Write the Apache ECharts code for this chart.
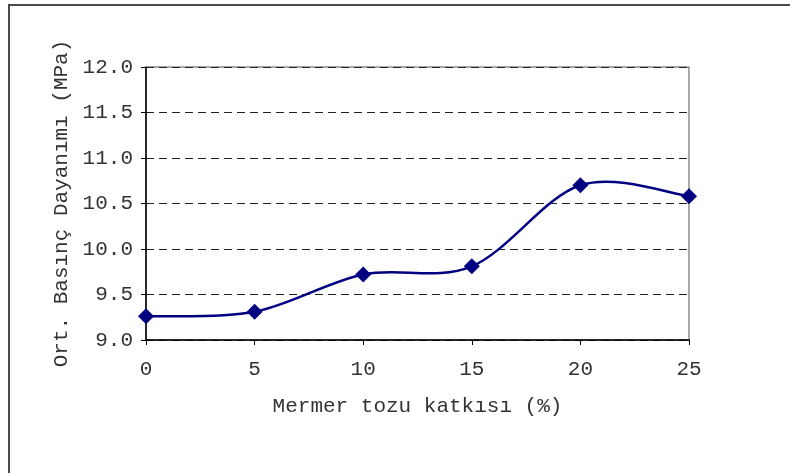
<!DOCTYPE html>
<html>
<head>
<meta charset="utf-8">
<script src="https://cdn.jsdelivr.net/npm/echarts@6/dist/echarts.min.js"></script>
<style>
  html, body { margin: 0; padding: 0; background: #fff; }
  #chart { width: 790px; height: 473px; }
</style>
</head>
<body>
<div id="chart"></div>
<script>
// Mermer tozu oranına göre ortalama basınç dayanımı
const katki = [0, 5, 10, 15, 20, 25];
const dayanim = [9.26, 9.31, 9.72, 9.81, 10.70, 10.58];
const xTitle = 'Mermer tozu katkısı (%)';
const yTitle = 'Ort. Basınç Dayanımı (MPa)';

const mono = '"Liberation Mono", "DejaVu Sans Mono", monospace';
const navy = '#000080';
const points = katki.map((k, i) => [k, dayanim[i]]);

// Smoothed segment i -> i+1 as a cubic Bezier (Catmull-Rom style tangents)
function renderSegment(params, api) {
  const i = params.dataIndex;
  const n = points.length;
  if (i >= n - 1) return null;
  const p0 = api.coord(points[Math.max(i - 1, 0)]);
  const p1 = api.coord(points[i]);
  const p2 = api.coord(points[i + 1]);
  const p3 = api.coord(points[Math.min(i + 2, n - 1)]);
  const c1 = [p1[0] + (p2[0] - p0[0]) / 6, p1[1] + (p2[1] - p0[1]) / 6];
  const c2 = [p2[0] - (p3[0] - p1[0]) / 6, p2[1] - (p3[1] - p1[1]) / 6];
  return {
    type: 'bezierCurve',
    shape: { x1: p1[0], y1: p1[1], x2: p2[0], y2: p2[1],
             cpx1: c1[0], cpy1: c1[1], cpx2: c2[0], cpy2: c2[1] },
    style: { stroke: navy, lineWidth: 2.5, fill: null },
    silent: true
  };
}

const chart = echarts.init(document.getElementById('chart'), null, { renderer: 'canvas' });
chart.setOption({
  animation: false,
  backgroundColor: '#fff',
  graphic: [{
    type: 'rect',
    shape: { x: 9, y: 5, width: 820, height: 520 },
    style: { fill: 'none', stroke: '#4a4a4a', lineWidth: 2 },
    silent: true
  }],
  grid: { left: 146, right: 101, top: 67, bottom: 133, show: true, borderColor: '#555', borderWidth: 1 },
  xAxis: {
    type: 'value', min: 0, max: 25, interval: 5,
    name: xTitle, nameLocation: 'middle', nameGap: 56,
    nameTextStyle: { fontFamily: mono, fontSize: 21, color: '#333' },
    axisLine: { lineStyle: { color: '#000', width: 1.5 } },
    axisTick: { show: true, length: 5, lineStyle: { color: '#000' } },
    axisLabel: { fontFamily: mono, fontSize: 21, color: '#333', margin: 19 },
    splitLine: { show: false }
  },
  yAxis: {
    type: 'value', min: 9.0, max: 12.0, interval: 0.5,
    name: yTitle, nameLocation: 'middle', nameGap: 74, nameRotate: 90,
    nameTextStyle: { fontFamily: mono, fontSize: 21, color: '#333' },
    axisLine: { show: true, lineStyle: { color: '#000', width: 1.5 } },
    axisTick: { show: true, length: 5, lineStyle: { color: '#000' } },
    axisLabel: { fontFamily: mono, fontSize: 21, color: '#333', margin: 13,
                 formatter: v => v.toFixed(1) },
    splitLine: { show: true, lineStyle: { color: '#222', type: [8, 5], width: 1 } }
  },
  series: [{
    type: 'custom',
    data: points,
    renderItem: renderSegment,
    z: 2
  }, {
    type: 'scatter',
    data: points,
    symbol: 'diamond',
    symbolSize: 16,
    itemStyle: { color: navy, opacity: 1 },
    z: 3
  }]
});
</script>
</body>
</html>
